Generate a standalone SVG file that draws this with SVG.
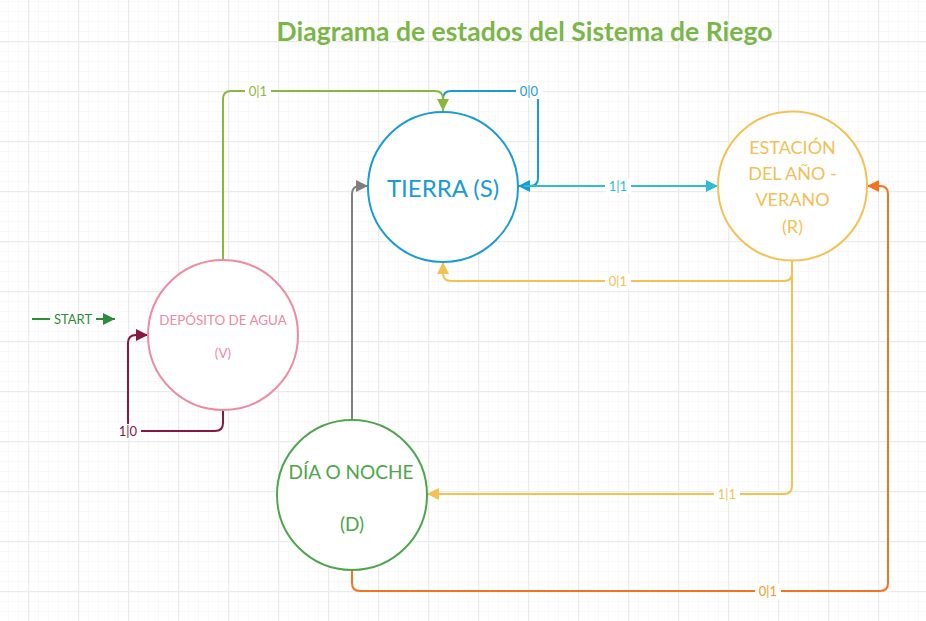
<svg xmlns="http://www.w3.org/2000/svg" width="926" height="621" viewBox="0 0 926 621">
<style>
text{font-family:Lato,"Liberation Sans",sans-serif}
.c{fill:none;stroke-width:2;stroke-linejoin:round}
.node{fill:#fff;stroke-width:2}
.lbl{font-size:13px;text-anchor:middle;dominant-baseline:central}
.bg{fill:#fff}
.nt{text-anchor:middle;dominant-baseline:central}
</style>
<defs>
<pattern id="minor" width="10" height="10" x="8" y="1" patternUnits="userSpaceOnUse">
<path d="M0,0 V10 M0,0 H10" stroke="#f4f4f4" stroke-width="1" fill="none"/>
</pattern>
<pattern id="major" width="50" height="50" x="28" y="41" patternUnits="userSpaceOnUse">
<path d="M0.5,0 V50 M0,0.5 H50" stroke="#ebebeb" stroke-width="1.5" fill="none"/>
</pattern>
<marker id="aG" markerUnits="userSpaceOnUse" markerWidth="12" markerHeight="12" refX="12" refY="6" orient="auto"><path d="M0,0 L12,6 L0,12 z" fill="#8db63c"/></marker>
<marker id="aB" markerUnits="userSpaceOnUse" markerWidth="12" markerHeight="12" refX="12" refY="6" orient="auto"><path d="M0,0 L12,6 L0,12 z" fill="#1a9ad6"/></marker>
<marker id="aC" markerUnits="userSpaceOnUse" markerWidth="12" markerHeight="12" refX="12" refY="6" orient="auto"><path d="M0,0 L12,6 L0,12 z" fill="#2dbdd0"/></marker>
<marker id="aY" markerUnits="userSpaceOnUse" markerWidth="12" markerHeight="12" refX="12" refY="6" orient="auto"><path d="M0,0 L12,6 L0,12 z" fill="#f5c152"/></marker>
<marker id="aO" markerUnits="userSpaceOnUse" markerWidth="12" markerHeight="12" refX="12" refY="6" orient="auto"><path d="M0,0 L12,6 L0,12 z" fill="#f37321"/></marker>
<marker id="aGr" markerUnits="userSpaceOnUse" markerWidth="12" markerHeight="12" refX="12" refY="6" orient="auto"><path d="M0,0 L12,6 L0,12 z" fill="#7f7f7f"/></marker>
<marker id="aM" markerUnits="userSpaceOnUse" markerWidth="12" markerHeight="12" refX="12" refY="6" orient="auto"><path d="M0,0 L12,6 L0,12 z" fill="#861843"/></marker>
<marker id="aS" markerUnits="userSpaceOnUse" markerWidth="12" markerHeight="12" refX="12" refY="6" orient="auto"><path d="M0,0 L12,6 L0,12 z" fill="#2e8b3a"/></marker>
</defs>
<rect width="926" height="621" fill="#fff"/>
<rect width="926" height="621" fill="url(#minor)"/>
<rect width="926" height="621" fill="url(#major)"/>

<text x="524.5" y="31" text-anchor="middle" dominant-baseline="central" font-size="26.5" font-weight="bold" fill="#7ab648">Diagrama de estados del Sistema de Riego</text>

<g id="connectors">
<path class="c" stroke="#1a9ad6" d="M443,111 V99 Q443,91 451,91 H530 Q538,91 538,99 V178 Q538,186 530,186 H518" marker-end="url(#aB)"/>
<rect class="bg" x="516" y="84" width="26" height="15"/>
<text class="lbl" x="529" y="91" fill="#1a9ad6">0|0</text>

<path class="c" stroke="#8db63c" d="M223,260 V99 Q223,91 231,91 H435 Q443,91 443,99 V111" marker-end="url(#aG)"/>
<rect class="bg" x="245" y="84" width="26" height="15"/>
<text class="lbl" x="258" y="91" fill="#8db63c">0|1</text>

<path class="c" stroke="#2dbdd0" d="M524,186 H718" marker-end="url(#aC)"/>
<rect class="bg" x="605" y="179" width="26" height="15"/>
<text class="lbl" x="618" y="186" fill="#2dbdd0">1|1</text>

<path class="c" stroke="#f5c152" d="M792,261 V273 Q792,281 784,281 H451 Q443,281 443,273 V262" marker-end="url(#aY)"/>
<rect class="bg" x="605" y="274" width="26" height="15"/>
<text class="lbl" x="618" y="281" fill="#f5c152">0|1</text>

<path class="c" stroke="#f5c152" d="M792,261 V486 Q792,494 784,494 H427" marker-end="url(#aY)"/>
<rect class="bg" x="714" y="487" width="26" height="15"/>
<text class="lbl" x="727" y="494" fill="#f5c152">1|1</text>

<path class="c" stroke="#f37321" d="M352,570 V583 Q352,591 360,591 H880 Q888,591 888,583 V194 Q888,186 880,186 H867" marker-end="url(#aO)"/>
<rect class="bg" x="755" y="584" width="26" height="15"/>
<text class="lbl" x="768" y="591" fill="#f39a1e">0|1</text>

<path class="c" stroke="#7f7f7f" d="M352,420 V194 Q352,186 360,186 H368" marker-end="url(#aGr)"/>

<path class="c" stroke="#861843" d="M223,410 V423 Q223,431 215,431 H136 Q128,431 128,423 V343 Q128,335 136,335 H148" marker-end="url(#aM)"/>
<rect class="bg" x="115" y="424" width="26" height="15"/>
<text class="lbl" x="128" y="431" fill="#861843">1|0</text>

<path class="c" stroke="#2e8b3a" d="M32,319 H115" marker-end="url(#aS)"/>
<rect class="bg" x="50" y="312" width="46" height="15"/>
<text class="lbl" x="73" y="319" fill="#2e8b3a">START</text>
</g>

<g id="tierra">
<circle class="node" cx="443" cy="187" r="75" stroke="#1a9ad6"/>
<text class="nt" x="443" y="187" font-size="24" fill="#1a9ad6">TIERRA (S)</text>
</g>
<g id="estacion">
<circle class="node" cx="792.5" cy="186" r="74.5" stroke="#f5c152"/>
<text class="nt" x="792.5" font-size="18" fill="#f2bf56"><tspan x="792.5" y="147">ESTACIÓN</tspan><tspan x="792.5" y="173">DEL AÑO -</tspan><tspan x="792.5" y="199">VERANO</tspan><tspan x="792.5" y="226">(R)</tspan></text>
</g>
<g id="deposito">
<circle class="node" cx="223" cy="335" r="75" stroke="#ef8aa0"/>
<text class="nt" x="223" y="320" font-size="13.4" fill="#ef8aa0">DEPÓSITO DE AGUA</text>
<text class="nt" x="223" y="353" font-size="13.4" fill="#ef8aa0">(V)</text>
</g>
<g id="dia">
<circle class="node" cx="352" cy="495" r="75" stroke="#4ea64a"/>
<text class="nt" x="351" y="471" font-size="19" fill="#4ea64a">DÍA O NOCHE</text>
<text class="nt" x="352" y="523" font-size="19" fill="#4ea64a">(D)</text>
</g>
</svg>
